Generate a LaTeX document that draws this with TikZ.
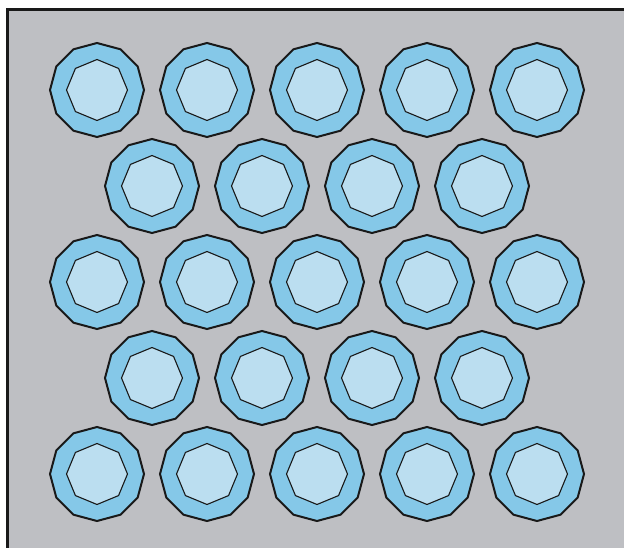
\documentclass[tikz,border=0pt]{standalone}
\definecolor{bggray}{RGB}{190,191,195}
\definecolor{outerblue}{RGB}{133,200,232}
\definecolor{innerblue}{RGB}{187,222,240}
\tikzset{
  outerpoly/.style={fill=outerblue,draw=black!90,line width=2pt,line join=miter},
  innerpoly/.style={fill=innerblue,draw=black!90,line width=1.1pt,line join=miter},
}
\newcommand{\cell}[2]{%
  \draw[outerpoly,shift={(#1,#2)}] plot[samples at={0,30,...,330}] (\x:47) -- cycle;
  \draw[innerpoly,shift={(#1,#2)}] plot[samples at={0,45,...,315}] (\x:30.5) -- cycle;
}
\begin{document}
\begin{tikzpicture}[x=1pt,y=-1pt]
\useasboundingbox (0,0) rectangle (624,548);
\fill[white] (0,0) rectangle (624,548);
\fill[bggray] (7.5,9.5) rectangle (624,548);
\draw[line width=3pt,black!90] (7.5,548) -- (7.5,9.5) -- (624,9.5);
\foreach \y in {90,282,474}{
  \foreach \x in {97,207,317,427,537}{\cell{\x}{\y}}
}
\foreach \y in {186,378}{
  \foreach \x in {152,262,372,482}{\cell{\x}{\y}}
}
\end{tikzpicture}
\end{document}
